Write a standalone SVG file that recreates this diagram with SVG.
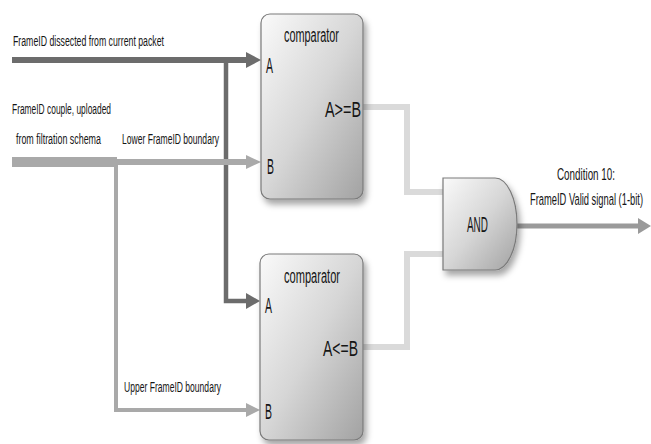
<svg xmlns="http://www.w3.org/2000/svg" width="651" height="444" viewBox="0 0 651 444">
<style>
text{font-family:"Liberation Sans","DejaVu Sans",sans-serif;fill:#151515}
.lbl{font-size:15px}
.cnd{font-size:17px}
.ttl{font-size:20px}
.port{font-size:22px}
.box{fill:url(#g);stroke:#7a7a7a;stroke-width:1.2;filter:url(#sh)}
.dark{stroke:#6c6c6c;fill:none}
.light{stroke:#a9a9a9;fill:none}
.out{stroke:#dadada;fill:none;stroke-width:6}
.res{stroke:#9a9a9a;fill:none;stroke-width:5}
</style>
<defs>
<linearGradient id="g" x1="0" y1="0" x2="1" y2="1">
<stop offset="0" stop-color="#fafafa"/>
<stop offset="0.5" stop-color="#d6d6d6"/>
<stop offset="1" stop-color="#a2a2a2"/>
</linearGradient>
<filter id="sh" x="-20%" y="-20%" width="150%" height="150%">
<feDropShadow dx="3" dy="5" stdDeviation="3" flood-color="#000" flood-opacity="0.35"/>
</filter>
</defs>
<rect width="651" height="444" fill="#fff"/>
<g id="connectors">
<path class="dark" stroke-width="6" d="M12,60 H249"/>
<polygon fill="#6c6c6c" points="246,52 261,60 246,68"/>
<path class="dark" stroke-width="4.5" d="M226,60 V301 H249"/>
<polygon fill="#6c6c6c" points="246,293 260,301 246,309"/>
<path class="light" stroke-width="10" d="M12,162 H117"/>
<path class="light" stroke-width="6" d="M117,162 H249"/>
<polygon fill="#a9a9a9" points="246,155 261,162 246,169"/>
<path class="light" stroke-width="4" d="M116,162 V410 H249"/>
<polygon fill="#a9a9a9" points="246,403 260,410 246,417"/>
<path class="out" d="M363,107 H407 V192 H443"/>
<path class="out" d="M363,347 H407 V254 H443"/>
<path class="res" d="M517,226 H641"/>
<polygon fill="#9a9a9a" points="638,218 651,226 638,234"/>
</g>
<g id="labels">
<text class="lbl" transform="translate(13,46) scale(0.55,1)" textLength="274.5" lengthAdjust="spacingAndGlyphs">FrameID dissected from current packet</text>
<text class="lbl" transform="translate(12,114) scale(0.55,1)" textLength="180" lengthAdjust="spacingAndGlyphs">FrameID couple, uploaded</text>
<text class="lbl" transform="translate(16,144) scale(0.55,1)" textLength="154.5" lengthAdjust="spacingAndGlyphs">from filtration schema</text>
<text class="lbl" transform="translate(122,144) scale(0.55,1)" textLength="176.4" lengthAdjust="spacingAndGlyphs">Lower FrameID boundary</text>
<text class="lbl" transform="translate(124,392) scale(0.55,1)" textLength="176.4" lengthAdjust="spacingAndGlyphs">Upper FrameID boundary</text>
<text class="cnd" transform="translate(557,180) scale(0.55,1)" textLength="105.5" lengthAdjust="spacingAndGlyphs">Condition 10:</text>
<text class="cnd" transform="translate(530,205) scale(0.55,1)" textLength="205.5" lengthAdjust="spacingAndGlyphs">FrameID Valid signal (1-bit)</text>
</g>
<g id="comparator1">
<rect class="box" x="261" y="14" width="102" height="185" rx="9"/>
<text class="ttl" transform="translate(284,42) scale(0.55,1)" textLength="100" lengthAdjust="spacingAndGlyphs">comparator</text>
<text class="port" transform="translate(266,73) scale(0.55,1)" textLength="12.7" lengthAdjust="spacingAndGlyphs">A</text>
<text class="port" transform="translate(325,117) scale(0.55,1)" textLength="65.5" lengthAdjust="spacingAndGlyphs">A&gt;=B</text>
<text class="port" transform="translate(267,174) scale(0.55,1)" textLength="12.7" lengthAdjust="spacingAndGlyphs">B</text>
</g>
<g id="comparator2">
<rect class="box" x="260" y="254" width="103" height="186" rx="9"/>
<text class="ttl" transform="translate(284,283) scale(0.55,1)" textLength="101.8" lengthAdjust="spacingAndGlyphs">comparator</text>
<text class="port" transform="translate(265,313) scale(0.55,1)" textLength="12.7" lengthAdjust="spacingAndGlyphs">A</text>
<text class="port" transform="translate(323,356) scale(0.55,1)" textLength="63.6" lengthAdjust="spacingAndGlyphs">A&lt;=B</text>
<text class="port" transform="translate(265,419) scale(0.55,1)" textLength="12.7" lengthAdjust="spacingAndGlyphs">B</text>
</g>
<g id="and">
<path class="box" d="M443,178 H495 A22,46 0 0 1 495,270 H443 Z"/>
<text class="port" transform="translate(467,232) scale(0.55,1)" textLength="38" lengthAdjust="spacingAndGlyphs">AND</text>
</g>
</svg>
